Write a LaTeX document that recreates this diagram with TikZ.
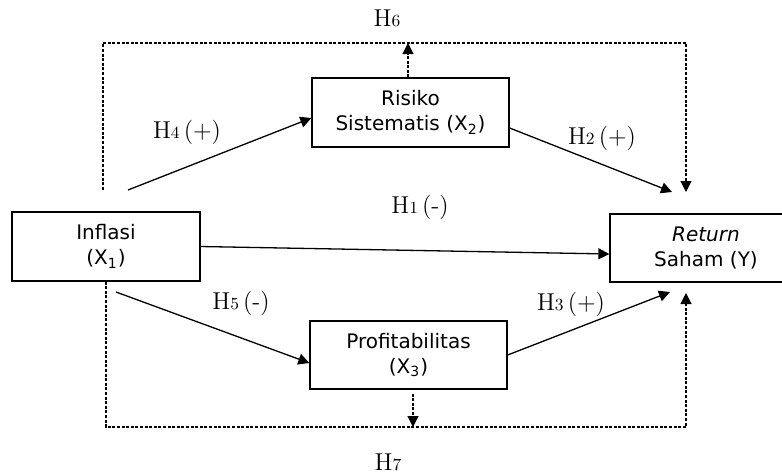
\documentclass[tikz,border=0pt]{standalone}
\usepackage{fontspec}
\newfontfamily\boxfont{DejaVu Sans}
\usepackage{tikz}
\usetikzlibrary{positioning, arrows.meta}

\newcommand{\hname}[2]{H{\fontsize{8.5}{9}\selectfont #1}\,#2}

\begin{document}
\begin{tikzpicture}[x=0.5pt, y=-0.5pt, >={Triangle[length=5.5pt, width=5.5pt]},
    var/.style={draw, line width=0.65pt, align=center, inner sep=0pt,
                font=\boxfont\fontsize{10}{12.5}\selectfont},
    hlabel/.style={font=\fontsize{12.2}{14}\selectfont, inner sep=0pt},
    link/.style={->, line width=0.65pt},
    mediate/.style={line width=0.55pt, dash pattern=on 1.5pt off 0.8pt}]
    \useasboundingbox (0,0) rectangle (782,472);

    % variables
    \node[var, minimum width=94pt, minimum height=34.5pt] (inflasi) at (106,246.5) {Inflasi\\(X\textsubscript{1})};
    \node[var, minimum width=98.5pt, minimum height=34.5pt] (risiko) at (410.5,112.5) {Risiko\\Sistematis (X\textsubscript{2})};
    \node[var, minimum width=98.5pt, minimum height=34pt] (profit) at (408.5,355) {Profitabilitas\\(X\textsubscript{3})};
    \node[var, minimum width=96pt, minimum height=34pt] (return) at (706,248) {\textit{Return}\\Saham (Y)};

    % free ends
    \coordinate (h4start) at (128,190);
    \coordinate (h5start) at (116,292);
    \coordinate (h2end) at (672,192);
    \coordinate (h3end) at (670,292);
    \coordinate (topleft) at (103,190);
    \coordinate (topline) at (103,43);
    \coordinate (topright) at (686,43);
    \coordinate (h6end) at (686,192);
    \coordinate (botline) at (106,427);
    \coordinate (botright) at (686,427);
    \coordinate (h7end) at (686,293);

    % direct paths
    \draw[link] (h4start) -- ([yshift=-2.75pt]risiko.west);
    \draw[link] ([yshift=-7.75pt]risiko.east) -- (h2end);
    \draw[link] (inflasi.east) -- ([yshift=-3pt]return.west);
    \draw[link] (h5start) -- ([yshift=-4pt]profit.west);
    \draw[link] (profit.east) -- (h3end);

    % mediating paths
    \draw[mediate, ->] (topleft) -- (topline) -- (topright) -- (h6end);
    \draw[mediate, ->] ([xshift=-1.25pt]risiko.north) -- ([xshift=-1.25pt]risiko.north |- topline);
    \draw[mediate, ->] (inflasi.south) -- (botline) -- (botright) -- (h7end);
    \draw[mediate, ->] ([xshift=2.25pt, yshift=-2pt]profit.south) -- ([xshift=2.25pt]profit.south |- botline);

    % hypotheses
    \node[hlabel] (h1) at (420,207) {\hname{1}{(-)}};
    \node[hlabel] (h2) at (602,138) {\hname{2}{(+)}};
    \node[hlabel] (h3) at (571,304) {\hname{3}{(+)}};
    \node[hlabel] (h4) at (187,132) {\hname{4}{(+)}};
    \node[hlabel] (h5) at (241,303) {\hname{5}{(-)}};
    \node[hlabel] (h6) at (389,18) {\hname{6}{}};
    \node[hlabel] (h7) at (390,462) {\hname{7}{}};
\end{tikzpicture}
\end{document}
